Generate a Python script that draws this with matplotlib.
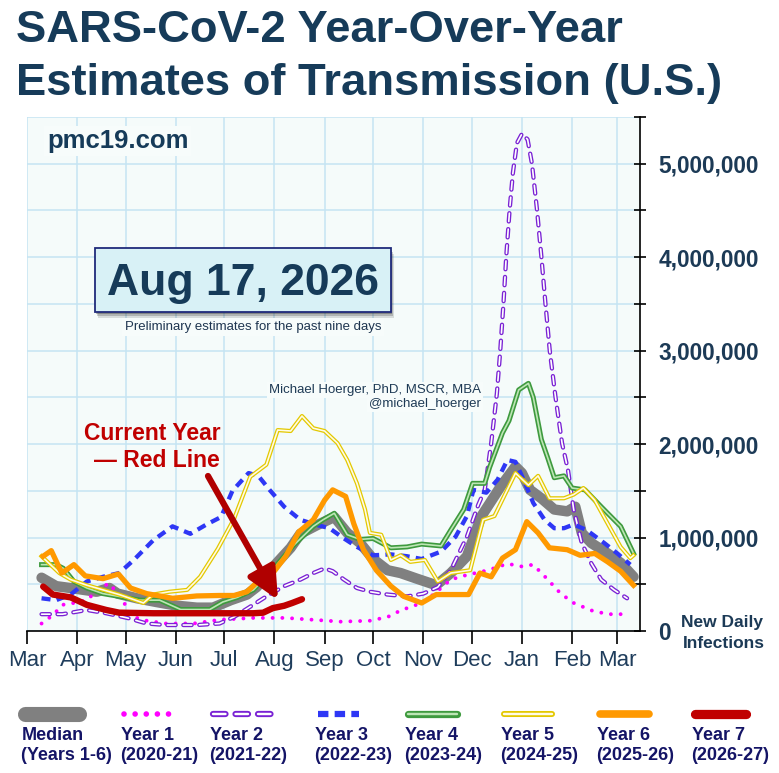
import matplotlib
matplotlib.use('Agg')
import matplotlib.pyplot as plt
from matplotlib.patches import Rectangle
from matplotlib.ticker import FuncFormatter, MultipleLocator

plt.rcParams['font.family'] = ['Liberation Sans', 'DejaVu Sans']
plt.rcParams['lines.scale_dashes'] = False

W, H = 779, 773
navy = '#163b59'

# ---- data: x = days since Mar 1, y = new daily infections (millions) ----
month_days = [0, 31, 61, 92, 122, 153, 184, 214, 245, 275, 306, 337, 365]
month_labels = ['Mar', 'Apr', 'May', 'Jun', 'Jul', 'Aug', 'Sep', 'Oct',
                'Nov', 'Dec', 'Jan', 'Feb', 'Mar']

median_day = [9, 18, 31, 43, 51, 56, 68, 80, 93, 105, 115, 126, 136, 142, 154, 163,
              169, 179, 190, 198, 206, 214, 223, 231, 241, 253, 262, 272, 281, 287,
              293, 302, 306, 311, 318, 326, 334, 339, 343, 349, 359, 367, 375]
median_val = [0.57, 0.48, 0.45, 0.42, 0.46, 0.40, 0.35, 0.31, 0.27, 0.25, 0.25, 0.33,
              0.39, 0.47, 0.72, 0.89, 1.04, 1.13, 1.22, 1.05, 0.94, 0.77, 0.65, 0.62,
              0.56, 0.49, 0.62, 0.80, 1.23, 1.39, 1.55, 1.76, 1.69, 1.51, 1.42, 1.30,
              1.28, 1.33, 1.05, 0.94, 0.83, 0.73, 0.58]

y1_day = [9, 16, 22, 29, 37, 45, 51, 55, 60, 66, 74, 86, 103, 119, 140, 160, 177,
          194, 212, 223, 231, 244, 252, 262, 272, 285, 297, 306, 313, 322, 330, 338,
          349, 359, 371]
y1_val = [0.08, 0.17, 0.28, 0.30, 0.33, 0.46, 0.51, 0.42, 0.30, 0.15, 0.11, 0.08,
          0.08, 0.12, 0.14, 0.14, 0.12, 0.10, 0.11, 0.15, 0.22, 0.30, 0.40, 0.55,
          0.60, 0.65, 0.72, 0.69, 0.71, 0.55, 0.40, 0.30, 0.22, 0.18, 0.18]

y2_day = [9, 22, 37, 49, 62, 74, 86, 105, 119, 128, 138, 148, 159, 169, 177, 184,
          189, 196, 204, 212, 223, 235, 245, 254, 262, 272, 279, 283, 287, 290.5,
          292.6, 294.6, 296.3, 298.4, 300.4, 302.9, 306, 309.5, 312.2, 315.3, 318,
          320.5, 323.2, 326.7, 330.8, 334.5, 338, 343, 349, 355, 363, 371]
y2_val = [0.18, 0.18, 0.225, 0.19, 0.14, 0.08, 0.064, 0.064, 0.08, 0.15, 0.26, 0.37,
          0.48, 0.55, 0.62, 0.67, 0.64, 0.55, 0.46, 0.42, 0.39, 0.37, 0.40, 0.47,
          0.65, 1.01, 1.35, 1.51, 2.01, 2.54, 3.0, 3.51, 4.01, 4.51, 4.9, 5.22, 5.32,
          5.26, 5.0, 4.51, 4.01, 3.51, 3.0, 2.51, 2.01, 1.72, 1.30, 0.94, 0.72, 0.55,
          0.44, 0.35]

y3_day = [9, 18, 27, 37, 47, 57, 66, 78, 90, 101, 111, 120, 127, 137, 143, 150, 159,
          169, 178, 187, 196, 204, 214, 225, 235, 244, 256, 265, 272, 276, 284, 291,
          297, 302, 307, 313, 320, 326, 332, 338, 346, 357, 365, 373]
y3_val = [0.35, 0.33, 0.39, 0.53, 0.58, 0.62, 0.76, 0.97, 1.12, 1.04, 1.14, 1.22,
          1.50, 1.69, 1.66, 1.51, 1.33, 1.19, 1.14, 1.10, 0.99, 0.90, 0.81, 0.82,
          0.80, 0.77, 0.85, 1.01, 1.23, 1.51, 1.48, 1.62, 1.83, 1.81, 1.62, 1.37,
          1.19, 1.10, 1.10, 1.14, 1.08, 0.94, 0.83, 0.71]

y4_day = [9, 18, 22.5, 29, 37, 47, 57, 70, 82, 95, 113, 121, 130, 140, 152, 165,
          177, 183, 190, 198, 206, 214, 225, 235, 244, 256, 262, 270, 275.5, 283,
          286, 294, 298, 304, 310, 313, 318, 322, 326, 332, 337, 345, 355, 367, 375]
y4_val = [0.71, 0.71, 0.67, 0.53, 0.46, 0.40, 0.37, 0.33, 0.33, 0.23, 0.23, 0.31,
          0.36, 0.44, 0.66, 0.92, 1.12, 1.19, 1.26, 1.03, 0.98, 0.99, 0.89, 0.90,
          0.93, 0.91, 1.08, 1.30, 1.58, 1.58, 1.75, 2.12, 2.25, 2.58, 2.65, 2.50,
          2.05, 1.85, 1.64, 1.66, 1.53, 1.51, 1.33, 1.12, 0.83]

y5_day = [9, 20, 27, 37, 47, 57, 72, 78, 88, 99, 107, 118, 128, 138, 148, 155, 163,
          170, 177, 184, 192, 198, 204, 209, 212, 219, 225, 231, 237, 246, 254, 262,
          274, 282, 289, 302, 310, 316, 323, 332, 338, 344, 351, 359, 367, 373, 375]
y5_val = [0.80, 0.62, 0.55, 0.49, 0.44, 0.39, 0.30, 0.39, 0.42, 0.44, 0.58, 0.88,
          1.20, 1.65, 1.78, 2.15, 2.14, 2.30, 2.17, 2.14, 2.01, 1.83, 1.58, 1.30,
          1.05, 1.03, 0.76, 0.81, 0.74, 0.76, 0.53, 0.62, 0.65, 1.19, 1.23, 1.69,
          1.56, 1.66, 1.42, 1.42, 1.46, 1.53, 1.40, 1.15, 0.90, 0.78, 0.81]

y6_day = [10, 15, 21.5, 29, 36, 47, 56.5, 64, 74, 90, 105, 119, 128, 136, 144, 152,
          160, 168, 177, 184, 189, 197, 202, 208, 216, 225, 233, 244, 253, 264, 273,
          280, 287, 294, 302, 309, 316, 323, 334, 342, 351, 359, 367, 375]
y6_val = [0.80, 0.86, 0.62, 0.71, 0.59, 0.56, 0.61, 0.46, 0.40, 0.35, 0.375, 0.38,
          0.38, 0.42, 0.55, 0.62, 0.80, 1.06, 1.19, 1.40, 1.51, 1.44, 1.15, 0.87,
          0.65, 0.48, 0.37, 0.30, 0.39, 0.39, 0.39, 0.62, 0.58, 0.78, 0.87, 1.17,
          1.05, 0.89, 0.87, 0.81, 0.83, 0.74, 0.64, 0.49]

y7_day = [10, 16, 27, 37, 49, 57, 78, 99, 119, 140, 146, 152, 159, 164, 170]
y7_val = [0.475, 0.39, 0.36, 0.28, 0.225, 0.196, 0.19, 0.19, 0.19, 0.19, 0.196,
          0.245, 0.27, 0.30, 0.34]

legend_top = ['Median', 'Year 1', 'Year 2', 'Year 3', 'Year 4', 'Year 5', 'Year 6', 'Year 7']
legend_bottom = ['(Years 1-6)', '(2020-21)', '(2021-22)', '(2022-23)', '(2023-24)',
                 '(2024-25)', '(2025-26)', '(2026-27)']

# ---- line styles (layers drawn bottom to top) ----
styles = [
    [dict(color='#808080', lw=7.5, solid_capstyle='round', solid_joinstyle='round')],
    [dict(color='#ff00ff', lw=2.8, ls=(0, (0.01, 7)), dash_capstyle='round')],
    [dict(color='#7a22d4', lw=3.1, ls=(0, (6, 5.5)), dash_capstyle='round'),
     dict(color='white', lw=1.2, ls=(0, (6, 5.5)), dash_capstyle='round')],
    [dict(color='#2e37f5', lw=3.1, ls=(0, (6.5, 4.5)), dash_capstyle='butt')],
    [dict(color='#3e9a3e', lw=3.6), dict(color='#bde6b5', lw=1.2)],
    [dict(color='#e3c800', lw=3.0), dict(color='#fffbe6', lw=1.2)],
    [dict(color='#ff9900', lw=3.8, solid_joinstyle='round')],
    [dict(color='#c00000', lw=4.6, solid_capstyle='round', solid_joinstyle='round')],
]
# dash patterns used only for the legend samples (points)
legend_dashes = {1: (0.01, 8), 2: (9, 7.2), 3: (7.5, 4.5)}

series = [(median_day, median_val), (y1_day, y1_val), (y2_day, y2_val),
          (y3_day, y3_val), (y4_day, y4_val), (y5_day, y5_val),
          (y6_day, y6_val), (y7_day, y7_val)]


def fx(px):
    return px / W


def fy(py):
    return 1 - py / H


fig = plt.figure(figsize=(W / 100, H / 100), dpi=100)
ax = fig.add_axes([fx(27), fy(631), fx(640 - 27), (631 - 117) / H])
ax.set_facecolor('#f5fbfa')
ax.set_xlim(0, 379)
ax.set_ylim(0, 5.5e6)

for i, ((d, v), layers) in enumerate(zip(series, styles)):
    for st in layers:
        ax.plot(d, [x * 1e6 for x in v], zorder=2 + i, **st)

# axes, ticks, grid
for s in ['top', 'left']:
    ax.spines[s].set_visible(False)
for s in ['bottom', 'right']:
    ax.spines[s].set_linewidth(1.2)
ax.set_axisbelow(True)
ax.set_xticks(month_days)
ax.set_xticklabels(month_labels)
ax.tick_params(axis='x', length=9.4, width=1.2, direction='out', pad=4,
               labelsize=16, labelcolor='#1f3d5c')
ax.yaxis.tick_right()
ax.yaxis.set_major_locator(MultipleLocator(1e6))
ax.yaxis.set_minor_locator(MultipleLocator(5e5))
ax.yaxis.set_major_formatter(FuncFormatter(lambda v, p: f'{int(v):,}'))
ax.tick_params(axis='y', which='both', length=8.6, width=1.2, direction='inout',
               pad=9.0, labelsize=16.3, labelcolor='#1c3a56')
for lab in ax.get_yticklabels():
    lab.set_fontweight('bold')
ax.grid(axis='x', which='major', color='#c5e4f3', lw=1.1)
ax.grid(axis='y', which='both', color='#c5e4f3', lw=1.1)

# titles and annotations
fig.text(fx(16), fy(42), 'SARS-CoV-2 Year-Over-Year', fontsize=32.7, weight='bold',
         color=navy, va='baseline')
fig.text(fx(16), fy(95), 'Estimates of Transmission (U.S.)', fontsize=32.7,
         weight='bold', color=navy, va='baseline')

bg = '#f7fcfb'
fig.text(fx(47), fy(148), 'pmc19.com', fontsize=18.5, weight='bold', color=navy,
         va='baseline', bbox=dict(facecolor=bg, edgecolor='none', pad=2))

for k, a in [(6, 0.12), (4, 0.18), (2, 0.25)]:
    fig.add_artist(Rectangle((fx(95 + k / 2), fy(312 + k)), fx(296), 64 / H,
                             transform=fig.transFigure, facecolor='#000000',
                             edgecolor='none', alpha=a, zorder=3))
fig.add_artist(Rectangle((fx(95), fy(312)), fx(296), 64 / H,
                         transform=fig.transFigure, facecolor='#d8f1f6',
                         edgecolor='#1f2a7a', lw=1.3, zorder=4))
fig.text(fx(243), fy(295), 'Aug 17, 2026', fontsize=32, weight='bold', color=navy,
         ha='center', va='baseline', zorder=5)
fig.text(fx(253), fy(330), 'Preliminary estimates for the past nine days',
         fontsize=9.5, color='#1e3550', ha='center', va='baseline',
         bbox=dict(facecolor=bg, edgecolor='none', pad=2))
fig.text(fx(481), fy(393), 'Michael Hoerger, PhD, MSCR, MBA', fontsize=9.5,
         color='#1e3a55', ha='right', va='baseline',
         bbox=dict(facecolor=bg, edgecolor='none', pad=1.5))
fig.text(fx(481), fy(407), '@michael_hoerger', fontsize=9.5, color='#1e3a55',
         ha='right', va='baseline', bbox=dict(facecolor=bg, edgecolor='none', pad=1.5))

fig.text(fx(152), fy(440), 'Current Year', fontsize=16.5, weight='bold',
         color='#c00000', ha='center', va='baseline')
fig.text(fx(157), fy(467), '\u2014 Red Line', fontsize=16.5, weight='bold',
         color='#c00000', ha='center', va='baseline')
ax.annotate('', xy=(278, H - 600), xycoords='figure pixels',
            xytext=(208, H - 476), textcoords='figure pixels',
            arrowprops=dict(arrowstyle='-|>,head_length=0.95,head_width=0.45',
                            color='#b00000', lw=4.5, mutation_scale=20,
                            shrinkA=0, shrinkB=0), zorder=12)

fig.text(fx(722), fy(622), 'New Daily', fontsize=12.5, weight='bold',
         color='#1c3a56', ha='center', va='center')
fig.text(fx(724), fy(643), 'Infections', fontsize=12.5, weight='bold',
         color='#1c3a56', ha='center', va='center')

# legend row
lax = fig.add_axes([0, 0, 1, 90 / H])
lax.set_xlim(0, W)
lax.set_ylim(H, H - 90)
lax.axis('off')
leg_x0 = [22, 121, 210, 315, 405, 501, 597, 692]
leg_x1 = [82, 172, 274, 362, 460, 555, 652, 749]
for i, layers in enumerate(styles):
    for st in layers:
        st2 = dict(st)
        st2['lw'] = st['lw'] * 1.45
        st2['solid_capstyle'] = 'round'
        if i in legend_dashes:
            st2['ls'] = (0, legend_dashes[i])
        lax.plot([leg_x0[i] + 3, leg_x1[i] - 3], [714, 714], **st2)
    lax.text(leg_x0[i], 736, legend_top[i], fontsize=13, weight='bold',
             color='#141466', va='center')
    lax.text(leg_x0[i] - 1, 756, legend_bottom[i], fontsize=13, weight='bold',
             color='#141466', va='center')

fig.savefig('out.png', dpi=100)
